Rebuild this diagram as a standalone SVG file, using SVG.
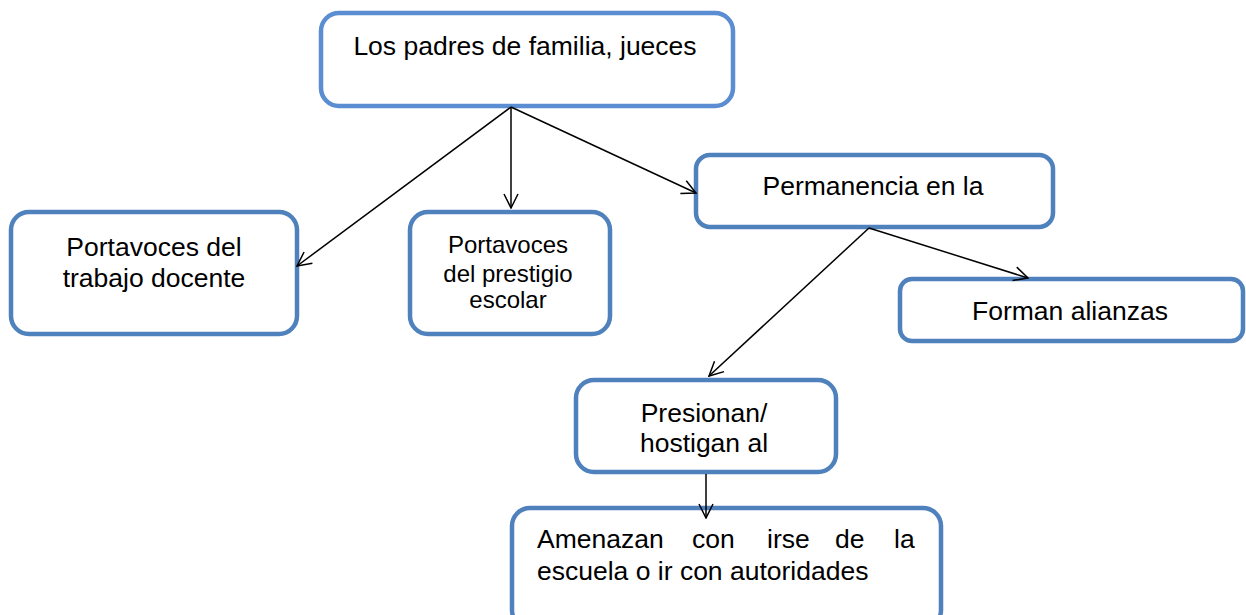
<svg xmlns="http://www.w3.org/2000/svg" width="1246" height="615" viewBox="0 0 1246 615">
<defs>
<style>
.box{fill:#fff;stroke:#4f81bd;stroke-width:4.5}
.top{stroke:#5a8dd2}
.t{font-family:"Liberation Sans",Arial,sans-serif;font-size:26.5px;fill:#000;text-anchor:middle}
.s{font-size:24px}
.l{text-anchor:start}
.c{stroke:#000;stroke-width:1.5;fill:none;marker-end:url(#a)}
</style>
<marker id="a" viewBox="0 0 16 16" refX="15" refY="8" markerWidth="16" markerHeight="16" markerUnits="userSpaceOnUse" orient="auto">
<path d="M1,1 L15,8 L1,15" fill="none" stroke="#000" stroke-width="1.5"/>
</marker>
</defs>
<rect width="1246" height="615" fill="#fff"/>
<g id="n1">
<rect class="box top" x="321" y="13" width="412" height="93" rx="18"/>
<text class="t" x="525" y="55">Los padres de familia, jueces</text>
</g>
<g id="n2">
<rect class="box" x="11" y="212" width="286" height="122" rx="18"/>
<text class="t" x="154" y="256">Portavoces del</text>
<text class="t" x="154" y="287">trabajo docente</text>
</g>
<g id="n3">
<rect class="box" x="410" y="212" width="200" height="122" rx="18"/>
<text class="t s" x="508" y="253">Portavoces</text>
<text class="t s" x="508" y="282">del prestigio</text>
<text class="t s" x="508" y="308">escolar</text>
</g>
<g id="n4">
<rect class="box" x="696" y="155" width="357" height="72" rx="14"/>
<text class="t" x="873" y="195">Permanencia en la</text>
</g>
<g id="n5">
<rect class="box" x="900" y="279" width="343" height="62" rx="12"/>
<text class="t" x="1070" y="320">Forman alianzas</text>
</g>
<g id="n6">
<rect class="box" x="576" y="380" width="260" height="92" rx="18"/>
<text class="t" x="704" y="422">Presionan/</text>
<text class="t" x="704" y="452">hostigan al</text>
</g>
<g id="n7">
<rect class="box" x="512" y="508" width="429" height="120" rx="18"/>
<text class="t l" y="548"><tspan x="537">Amenazan</tspan><tspan x="692">con</tspan><tspan x="767">irse</tspan><tspan x="835">de</tspan><tspan x="894">la</tspan></text>
<text class="t l" x="537" y="580">escuela o ir con autoridades</text>
</g>
<g id="connectors">
<line class="c" x1="511" y1="107" x2="297" y2="266"/>
<line class="c" x1="511" y1="107" x2="511" y2="208"/>
<line class="c" x1="511" y1="107" x2="696" y2="193"/>
<line class="c" x1="869" y1="228" x2="709" y2="376"/>
<line class="c" x1="869" y1="228" x2="1028" y2="278"/>
<line class="c" x1="706" y1="474" x2="706" y2="518"/>
</g>
</svg>
